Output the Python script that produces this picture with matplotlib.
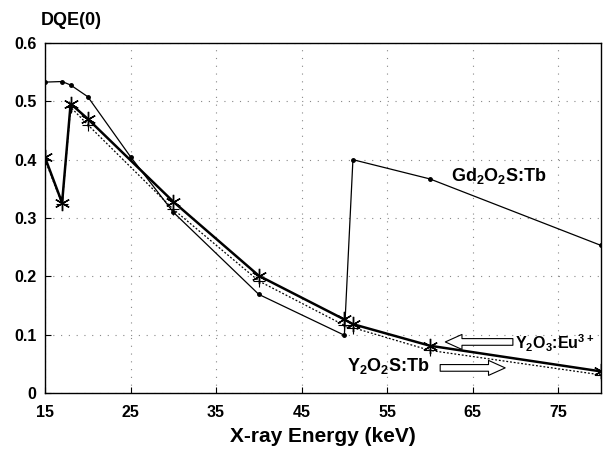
import matplotlib
matplotlib.use("Agg")
import matplotlib.pyplot as plt

plt.rcParams['font.family'] = ['Liberation Sans', 'DejaVu Sans']
plt.rcParams['mathtext.fontset'] = 'custom'
plt.rcParams['mathtext.rm'] = 'Liberation Sans:bold'
plt.rcParams['mathtext.bf'] = 'Liberation Sans:bold'
plt.rcParams['mathtext.default'] = 'bf'

# Gd2O2S:Tb
gd_energy = [15, 17, 18, 20, 25, 30, 40, 50, 51, 60, 80]
gd_dqe = [0.533, 0.534, 0.528, 0.508, 0.405, 0.310, 0.169, 0.099, 0.400, 0.367, 0.253]

# Y2O3:Eu3+
yeu_energy = [15, 17, 18, 20, 30, 40, 50, 51, 60, 80]
yeu_dqe = [0.404, 0.326, 0.496, 0.470, 0.328, 0.201, 0.126, 0.118, 0.081, 0.037]

# Y2O2S:Tb
yst_energy = [15, 17, 18, 20, 30, 40, 50, 51, 60, 80]
yst_dqe = [0.400, 0.324, 0.490, 0.460, 0.315, 0.192, 0.116, 0.112, 0.073, 0.031]

x_ticks = [15, 25, 35, 45, 55, 65, 75]
y_ticks = [0, 0.1, 0.2, 0.3, 0.4, 0.5, 0.6]
y_tick_labels = ['0', '0.1', '0.2', '0.3', '0.4', '0.5', '0.6']

fig = plt.figure(figsize=(6.07, 4.53), dpi=100)
ax = fig.add_axes([0.0741, 0.1325, 0.916, 0.7725])

ax.plot(gd_energy, gd_dqe, color='black', lw=0.9, marker='o', ms=2.5)
ax.plot(yst_energy, yst_dqe, color='black', lw=0.9, ls=(0, (1.5, 1.5)), marker='+', ms=8, mew=0.8)
ax.plot(yeu_energy, yeu_dqe, color='black', lw=1.8)
ax.plot(yeu_energy, yeu_dqe, color='black', lw=0, marker=(6, 2, 0), ms=11, mew=1.0)

ax.set_xlim(15, 80)
ax.set_ylim(0, 0.6)
ax.set_xticks(x_ticks)
ax.set_yticks(y_ticks)
ax.set_xticklabels([str(t) for t in x_ticks], fontweight='bold', fontsize=11.5)
ax.set_yticklabels(y_tick_labels, fontweight='bold', fontsize=11.5)
ax.tick_params(direction='in', length=4, width=0.8)
ax.tick_params(axis='x', pad=9)
ax.tick_params(axis='y', pad=6)
ax.grid(True, color='#888888', ls=(0, (1, 6)), lw=0.8)
for s in ax.spines.values():
    s.set_linewidth(1.0)

ax.set_xlabel('X-ray Energy (keV)', fontweight='bold', fontsize=15, labelpad=5)
fig.text(0.0675, 0.955, 'DQE(0)', fontweight='bold', fontsize=13, ha='left', va='center')

ax.text(68.0, 0.372, r'Gd$_2$O$_2$S:Tb', fontsize=13, fontweight='bold', ha='center', va='center')
ax.text(70.0, 0.085, r'Y$_2$O$_3$:Eu$^{3+}$', fontsize=11.5, fontweight='bold', ha='left', va='center')
ax.text(50.3, 0.046, r'Y$_2$O$_2$S:Tb', fontsize=13, fontweight='bold', ha='left', va='center')

arrow_style = 'simple,head_width=0.9,head_length=1.0,tail_width=0.4'
ax.annotate('', xy=(61.8, 0.0875), xytext=(69.7, 0.0875),
            arrowprops=dict(arrowstyle=arrow_style, fc='white', ec='black', lw=0.8,
                            shrinkA=0, shrinkB=0, mutation_scale=12))
ax.annotate('', xy=(68.8, 0.043), xytext=(61.2, 0.043),
            arrowprops=dict(arrowstyle=arrow_style, fc='white', ec='black', lw=0.8,
                            shrinkA=0, shrinkB=0, mutation_scale=12))

fig.savefig('out.png', dpi=100)
